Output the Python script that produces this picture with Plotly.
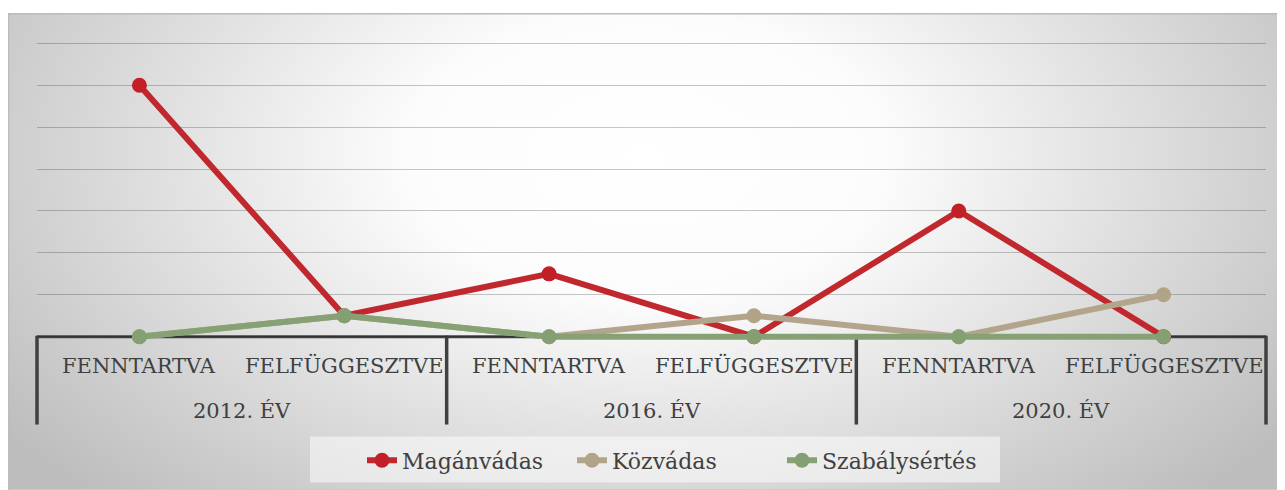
import base64
import plotly.graph_objects as go

groups = ["2012. ÉV", "2016. ÉV", "2020. ÉV"]
subcats = ["FENNTARTVA", "FELFÜGGESZTVE"]
series_names = ["Magánvádas", "Közvádas", "Szabálysértés"]
maganvadas = [12, 1, 3, 0, 6, 0]
kozvadas = [0, 1, 0, 1, 0, 2]
szabalysertes = [0, 1, 0, 0, 0, 0]
y_ticks = [0, 2, 4, 6, 8, 10, 12, 14]

colors = ["#C0282E", "#B2A58C", "#86A275"]
marker_colors = ["#C21F26", "#B1A387", "#84A072"]

labels = [s for g in groups for s in subcats]
xs = list(range(len(labels)))

OFF = 8  # browser body margin
UNIT = 21.0  # px per y unit in reference
Y_LO, Y_HI = -0.3, 14.06
W, H = 1285 - OFF, 490 - OFF
L, R = 37 - OFF, 1266 - OFF
T = 337 - Y_HI * UNIT - OFF
B = 337 - Y_LO * UNIT - OFF
pw, ph = R - L, B - T

def px_x(p):  # page pixel -> paper
    return (p - OFF - L) / pw

def px_y(p):
    return (B - (p - OFF)) / ph

fig = go.Figure()
for name, vals, c, mc in zip(series_names, [maganvadas, kozvadas, szabalysertes], colors, marker_colors):
    fig.add_trace(go.Scatter(
        x=xs, y=vals, name=name, mode="lines+markers",
        line=dict(color=c, width=6),
        marker=dict(color=mc, size=15),
        cliponaxis=False,
    ))

# gradient background
svg = '''<svg xmlns="http://www.w3.org/2000/svg" width="1275" height="477" viewBox="0 0 1275 477" preserveAspectRatio="none">
<defs><radialGradient id="g" cx="0.5" cy="0.3" r="0.62" gradientUnits="objectBoundingBox" gradientTransform="translate(0.5,0.3) scale(1,1.6) translate(-0.5,-0.3)">
<stop offset="0" stop-color="#ffffff"/><stop offset="0.3" stop-color="#fcfcfc"/><stop offset="1" stop-color="#bdbdbd"/></radialGradient></defs>
<rect x="0" y="0" width="1275" height="477" fill="url(#g)"/></svg>'''
src = "data:image/svg+xml;base64," + base64.b64encode(svg.encode()).decode()
fig.add_layout_image(dict(
    source=src, xref="paper", yref="paper",
    x=px_x(8), y=px_y(13), sizex=(1283 - 8) / pw, sizey=(490 - 13) / ph,
    sizing="stretch", xanchor="left", yanchor="top", layer="below",
))

shapes = []
# border
shapes.append(dict(type="rect", xref="paper", yref="paper",
                   x0=px_x(8.5), x1=px_x(1283.5), y0=px_y(490.5), y1=px_y(13.5),
                   line=dict(color="#bcbcbc", width=1.5), layer="below"))
# legend backdrop
shapes.append(dict(type="rect", xref="paper", yref="paper",
                   x0=px_x(310), x1=px_x(1000), y0=px_y(483), y1=px_y(437),
                   line=dict(width=0), fillcolor="rgba(255,255,255,0.5)", layer="below"))
# axis line
shapes.append(dict(type="line", xref="x", yref="y", x0=-0.5, x1=len(labels) - 0.5, y0=0, y1=0,
                   line=dict(color="#404040", width=3), layer="below"))
# group dividers
n = len(labels)
for i in range(len(groups) + 1):
    xf = i * len(subcats) / n
    shapes.append(dict(type="line", xref="paper", yref="paper", x0=xf, x1=xf,
                       y0=px_y(336), y1=px_y(425), line=dict(color="#404040", width=3.5), layer="below"))

annotations = []
for i, lab in enumerate(labels):
    annotations.append(dict(x=i, y=px_y(366), xref="x", yref="paper", text=lab, showarrow=False,
                            font=dict(family="DejaVu Serif", size=21, color="#404040"),
                            xanchor="center", yanchor="middle"))
for gi, g in enumerate(groups):
    annotations.append(dict(x=gi * len(subcats) + (len(subcats) - 1) / 2, y=px_y(411), xref="x", yref="paper",
                            text=g, showarrow=False,
                            font=dict(family="DejaVu Serif", size=21, color="#404040"),
                            xanchor="center", yanchor="middle"))

fig.update_layout(
    width=W, height=H,
    margin=dict(l=L, r=W - R, t=T, b=H - B, autoexpand=False),
    paper_bgcolor="white", plot_bgcolor="rgba(0,0,0,0)",
    xaxis=dict(range=[-0.5, len(labels) - 0.5], showticklabels=False, showgrid=False,
               zeroline=False, showline=False, fixedrange=True),
    yaxis=dict(range=[Y_LO, Y_HI], tickvals=y_ticks, showticklabels=False, showgrid=True,
               gridcolor="rgba(0,0,0,0.22)", gridwidth=1, zeroline=False, showline=False),
    shapes=shapes, annotations=annotations,
    showlegend=True,
    legend=dict(orientation="h", x=px_x(362), xanchor="left", y=px_y(461), yanchor="middle",
                entrywidth=165, entrywidthmode="pixels",
                bgcolor="rgba(0,0,0,0)", font=dict(family="DejaVu Serif", size=22, color="#404040"),
                itemwidth=30, tracegroupgap=0),
)

fig.write_html("out.html")
